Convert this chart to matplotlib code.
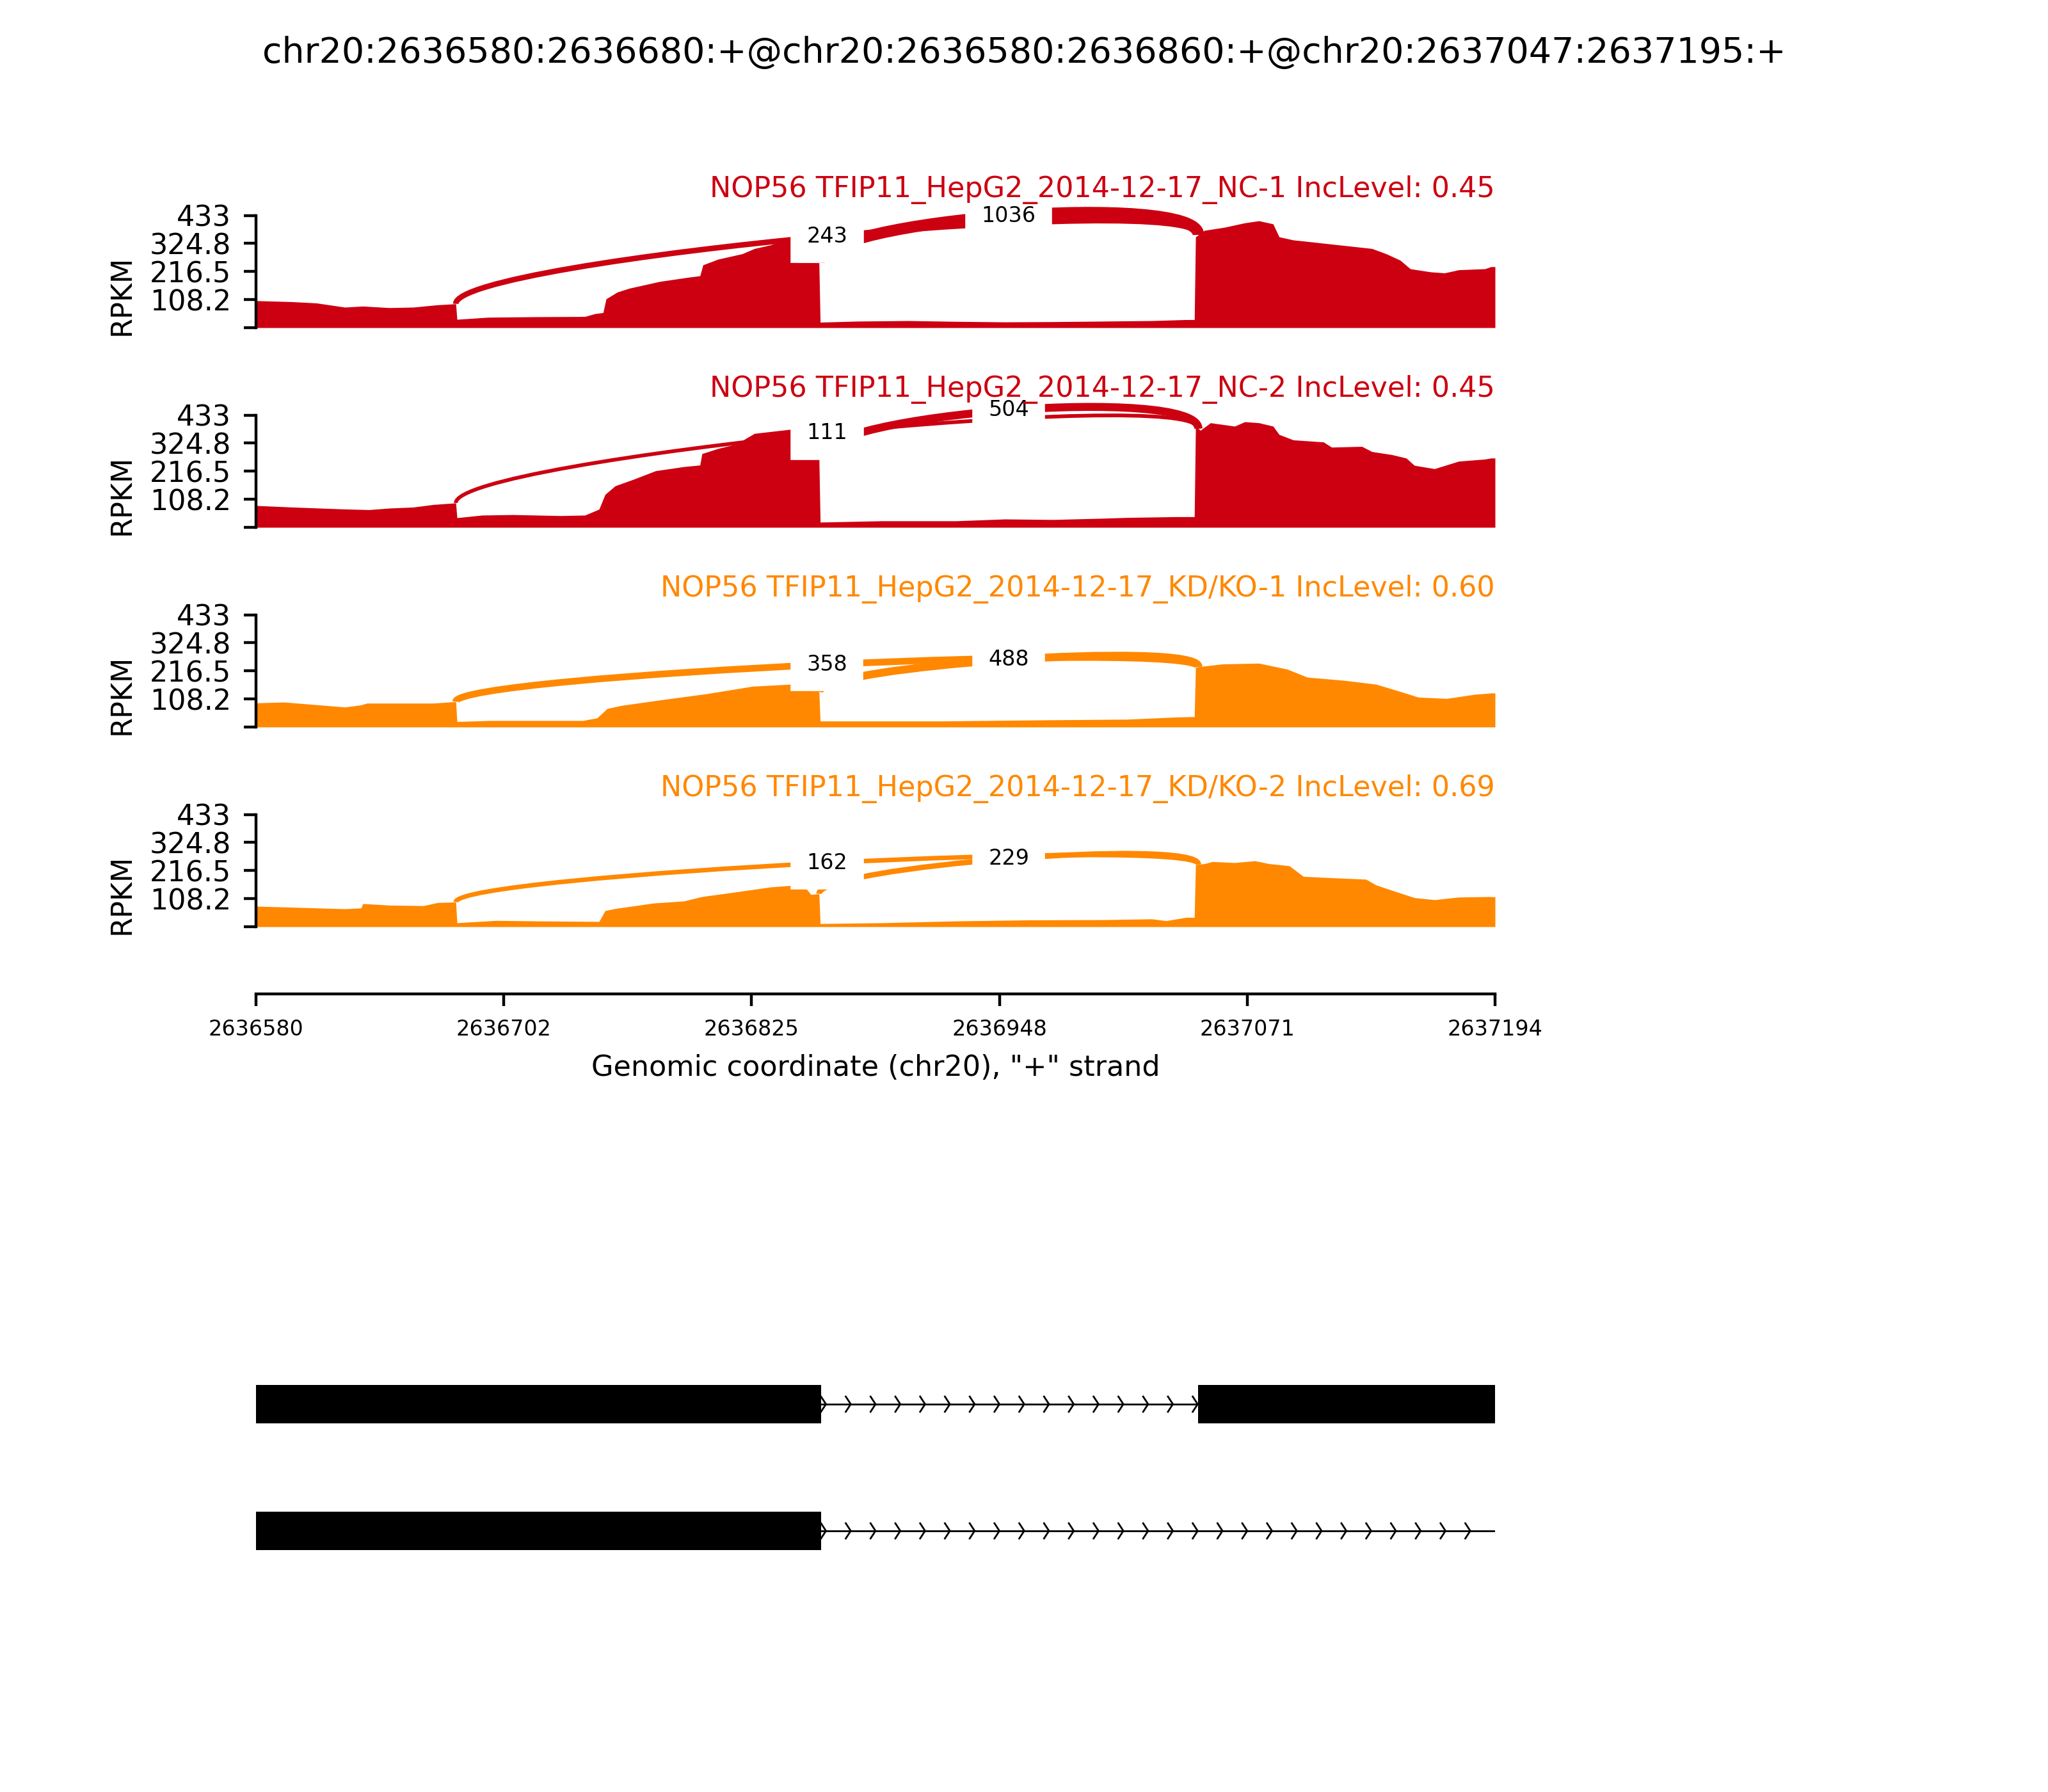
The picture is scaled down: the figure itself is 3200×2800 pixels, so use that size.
import numpy as np
import matplotlib
matplotlib.use('Agg')
import matplotlib.pyplot as plt
from matplotlib.path import Path
from matplotlib.patches import PathPatch

START = 2636580
END = 2637194
YMAX = 433.0

title = 'chr20:2636580:2636680:+@chr20:2636580:2636860:+@chr20:2637047:2637195:+'
sample_names = ['NOP56 TFIP11_HepG2_2014-12-17_NC-1 IncLevel: 0.45',
                'NOP56 TFIP11_HepG2_2014-12-17_NC-2 IncLevel: 0.45',
                'NOP56 TFIP11_HepG2_2014-12-17_KD/KO-1 IncLevel: 0.60',
                'NOP56 TFIP11_HepG2_2014-12-17_KD/KO-2 IncLevel: 0.69']
sample_colors = ['#CC0011', '#CC0011', '#FF8800', '#FF8800']

# read coverage: bp offset from START, RPKM
nc1_x = [0, 18, 30, 44, 53, 66, 78, 90, 99, 99.6, 115, 139, 163, 168, 172, 173.5, 179, 185, 200, 214,
         220, 221.5, 229, 241, 247, 255, 265, 266, 279, 279.6, 298, 323, 347, 371, 395, 420, 444, 461, 465, 465.6,
         470, 480, 490, 497, 504, 507, 514, 519, 533, 553, 560, 567, 572, 582, 589, 596, 609, 612, 614]
nc1_y = [104, 100, 95, 79, 83, 77, 79, 88, 92, 32, 40, 42, 43, 54, 58, 111, 137, 152, 178, 194,
         200, 242, 264, 285, 305, 319, 346, 252, 250, 21, 25, 27, 24, 22, 23, 25, 27, 31, 31, 350,
         375, 387, 404, 412, 400, 350, 338, 334, 322, 305, 285, 260, 227, 215, 211, 223, 227, 235, 235]

nc2_x = [0, 18, 42, 56, 66, 78, 88, 99, 99.6, 112, 127, 151, 163, 170, 173, 178, 187, 198, 212, 220, 221,
         229, 238, 247, 265, 266, 279, 279.6, 310, 347, 371, 395, 420, 432, 456, 465, 465.6, 468, 473, 485, 490,
         497, 504, 507, 514, 529, 533, 548, 553, 563, 570, 574, 584, 596, 609, 612, 614]
nc2_y = [84, 78, 71, 68, 74, 78, 88, 94, 37, 47, 49, 45, 47, 70, 127, 160, 185, 218, 234, 240, 284,
         304, 321, 362, 378, 271, 271, 20, 25, 25, 32, 30, 35, 38, 41, 41, 390, 374, 403, 390, 407,
         403, 390, 358, 337, 329, 309, 312, 292, 280, 267, 239, 226, 255, 263, 267, 267]

kd1_x = [0, 14, 44, 52, 55, 88, 99, 99.6, 116, 162, 169, 174, 181, 200, 223, 246, 265, 272, 279, 279.6,
         339, 386, 432, 455, 465, 465.6, 479, 497, 511, 521, 539, 555, 567, 576, 590, 604, 612, 614]
kd1_y = [93, 96, 77, 85, 92, 92, 98, 21, 25, 25, 35, 71, 83, 104, 128, 157, 165, 150, 135, 23,
         23, 27, 30, 38, 40, 231, 243, 246, 223, 192, 180, 165, 137, 115, 110, 126, 131, 131]

kd2_x = [0, 18, 44, 52, 53, 66, 83, 90, 99, 99.6, 119, 139, 170, 173, 178, 197, 212, 221, 236, 255,
         265, 272, 275, 279, 279.6, 310, 347, 383, 420, 444, 451, 461, 465, 465.6, 470, 474, 485, 495, 502, 512,
         519, 529, 550, 555, 563, 574, 584, 596, 611, 614]
kd2_y = [79, 75, 69, 72, 89, 83, 81, 93, 95, 15, 24, 22, 20, 62, 70, 91, 99, 116, 132, 153,
         159, 153, 124, 127, 12, 15, 22, 26, 27, 30, 23, 36, 36, 239, 243, 251, 247, 254, 243, 235,
         194, 190, 183, 161, 140, 112, 104, 114, 116, 115]

# junctions (donor, acceptor) and read counts per sample
jxn_donor = [2636679, 2636859]
jxn_acceptor = [2637047, 2637047]
nc1_jxn = [243, 1036]
nc2_jxn = [111, 504]
kd1_jxn = [358, 488]
kd2_jxn = [162, 229]

ytick_vals = [0, 108.25, 216.5, 324.75, 433]
ytick_labels = ['', '108.2', '216.5', '324.8', '433']
xtick_labels = ['2636580', '2636702', '2636825', '2636948', '2637071', '2637194']

# isoform exons, bottom row first
iso_exons = [
    [(2636580, 2636680), (2636580, 2636860)],
    [(2636580, 2636680), (2636580, 2636860), (2637047, 2637195)],
]

samples = [(nc1_x, nc1_y, nc1_jxn), (nc2_x, nc2_y, nc2_jxn),
           (kd1_x, kd1_y, kd1_jxn), (kd2_x, kd2_y, kd2_jxn)]

fig = plt.figure(figsize=(8, 7), dpi=400)
fig.suptitle(title, fontsize=10)

L, W = 0.125, 0.605
px = 175.5 / YMAX
YMIN, YTOP = -0.6 * YMAX, 1.18 * YMAX

for k, (xs, ys, counts) in enumerate(samples):
    y0 = 512 + 312 * k
    ax = fig.add_axes([L, 1 - (y0 - YMIN * px) / 2800, W, (YTOP - YMIN) * px / 2800])
    ax.patch.set_visible(False)
    color = sample_colors[k]
    xs = START + np.asarray(xs, float)
    ys = np.asarray(ys, float)
    ax.fill_between(xs, 0, ys, color=color, lw=0)

    h = 3 / 8 * 1.1 * ys.max()
    for donor, acc, n in zip(jxn_donor, jxn_acceptor, counts):
        y1 = np.interp(donor, xs, ys)
        y2 = np.interp(acc, xs, ys)
        pts = [(donor, y1), (donor, y1 + h), (acc, y2 + h), (acc, y2)]
        path = Path(pts, [Path.MOVETO, Path.CURVE4, Path.CURVE4, Path.CURVE4])
        ax.add_patch(PathPatch(path, ec=color, fc='none', lw=0.1 * np.sqrt(n)))
        ax.text((donor + acc) / 2, (y1 + y2) / 2 + 0.75 * h, str(n), fontsize=6,
                ha='center', va='center', backgroundcolor='w')

    ax.text(END, 1.1 * YMAX, sample_names[k], fontsize=8, ha='right', va='bottom', color=color)

    ax.set_xlim(START, END)
    ax.set_ylim(YMIN, YTOP)
    ax.spines['top'].set_visible(False)
    ax.spines['right'].set_visible(False)
    ax.spines['left'].set_bounds(0, YMAX)
    ax.set_yticks(ytick_vals)
    ax.set_yticklabels(ytick_labels, fontsize=8)
    ax.set_ylabel('RPKM', fontsize=8)
    if k == len(samples) - 1:
        ax.set_xticks(np.linspace(START, END, 6))
        ax.set_xticklabels(xtick_labels, fontsize=6)
        ax.set_xlabel('Genomic coordinate (chr20), "+" strand', fontsize=8)
    else:
        ax.spines['bottom'].set_visible(False)
        ax.set_xticks([])

# gene model
gax = fig.add_axes([L, 1 - 2491 / 2800, W, 594 / 2800])
exonwidth = 0.3
narrows = 50
span = END - START
for yloc, exons in enumerate(iso_exons):
    for s, e in exons:
        gax.fill([s, e, e, s], [yloc - exonwidth / 2, yloc - exonwidth / 2, yloc + exonwidth / 2, yloc + exonwidth / 2],
                 'k', lw=.5, zorder=20)
    gax.axhline(yloc, color='k', lw=.5)
    spread = .2 * span / narrows
    for i in range(narrows):
        loc = START + float(i) * span / narrows
        gax.plot([loc - spread, loc, loc - spread], [yloc - exonwidth / 5, yloc, yloc + exonwidth / 5],
                 lw=.5, color='k')
gax.set_xlim(START, END)
gax.set_ylim(-.5, len(iso_exons) + .5)
gax.axis('off')

fig.savefig('out.png', dpi=400)
